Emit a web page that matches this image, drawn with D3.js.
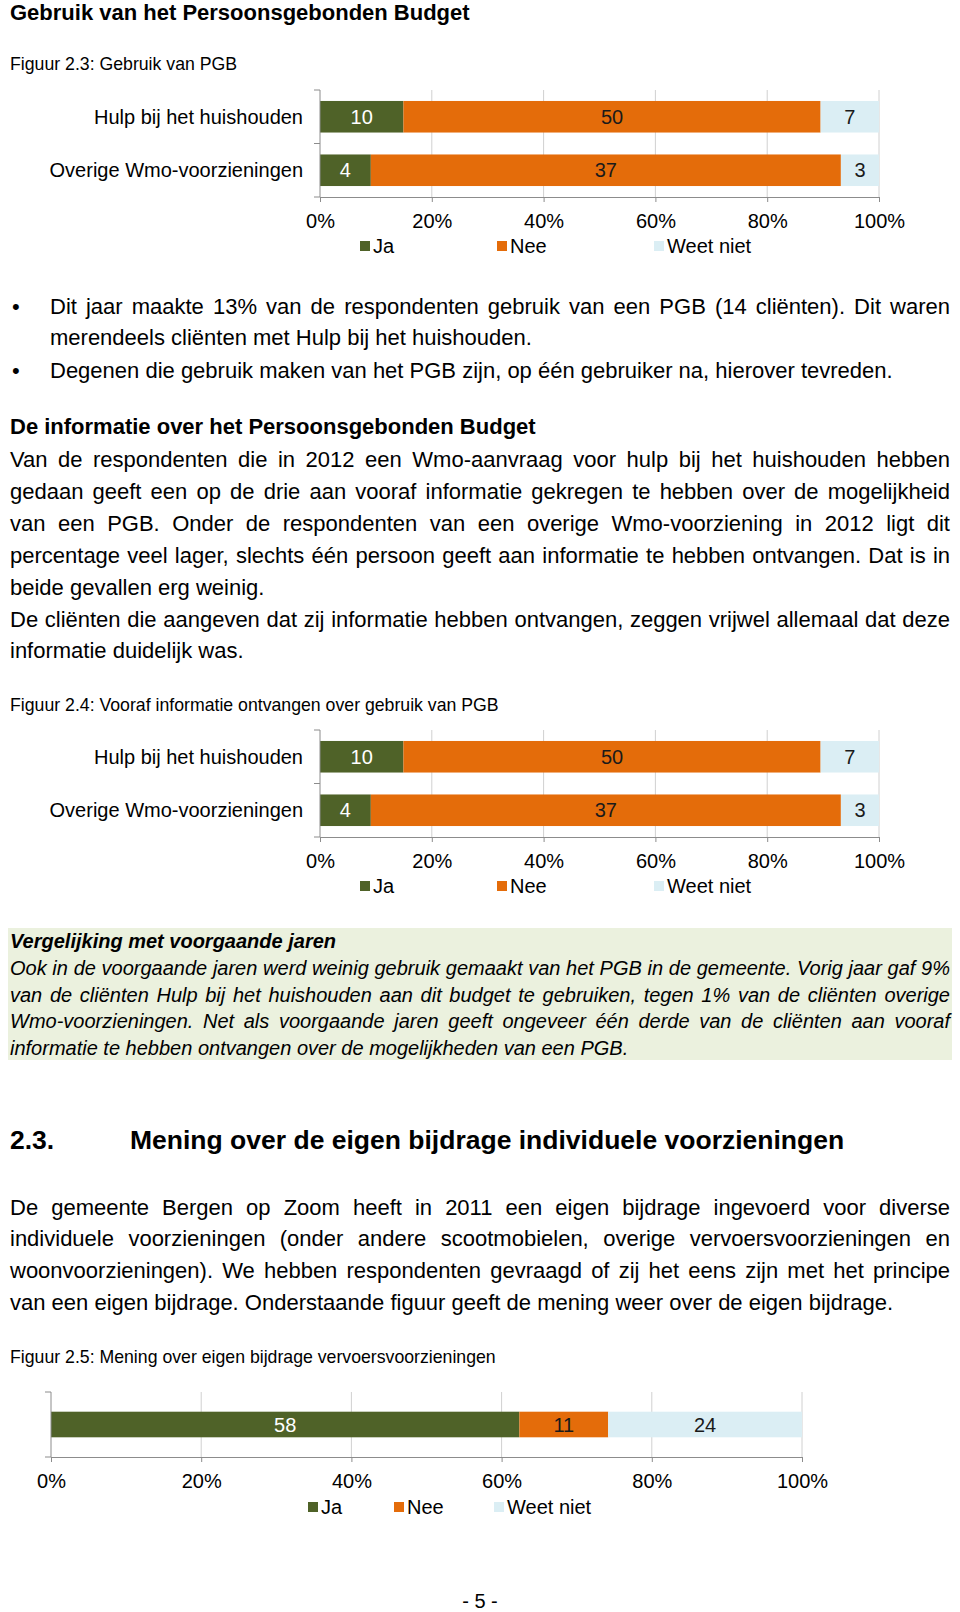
<!DOCTYPE html>
<html><head><meta charset="utf-8">
<script src="https://cdn.jsdelivr.net/npm/d3@7"></script>
<style>
html,body{margin:0;padding:0;background:#fff;}
svg{display:block;font-family:"Liberation Sans",Arial,sans-serif;}
</style></head><body>
<script>
// ---------- DATA ----------
const seriesNames = ["Ja", "Nee", "Weet niet"];
const tickLabels = ["0%", "20%", "40%", "60%", "80%", "100%"];
const tickValues = [0, 0.2, 0.4, 0.6, 0.8, 1];

const fig23Categories = ["Hulp bij het huishouden", "Overige Wmo-voorzieningen"];
const fig23Ja = [10, 4];
const fig23Nee = [50, 37];
const fig23Weet = [7, 3];

const fig24Categories = ["Hulp bij het huishouden", "Overige Wmo-voorzieningen"];
const fig24Ja = [10, 4];
const fig24Nee = [50, 37];
const fig24Weet = [7, 3];

const fig25Categories = [""];
const fig25Ja = [58];
const fig25Nee = [11];
const fig25Weet = [24];

const colors = ["#4F6228", "#E46C0A", "#DBEEF4"];
const labelColors = ["#ffffff", "#1a1a1a", "#1a1a1a"];

// ---------- SVG ----------
const svg = d3.select("body").append("svg").attr("width", 960).attr("height", 1612);
svg.append("rect").attr("width", 960).attr("height", 1612).attr("fill", "#fff");

function line(str, x, y, opt) {
  opt = opt || {};
  const t = svg.append("text").attr("x", x).attr("y", y)
    .attr("font-size", opt.size || 22)
    .attr("font-weight", opt.bold ? "bold" : "normal")
    .attr("font-style", opt.italic ? "italic" : "normal")
    .attr("fill", "#000");
  if (opt.justify) {
    const words = str.split(" ");
    const spans = words.map(w => t.append("tspan").text(w));
    const widths = spans.map(s => s.node().getComputedTextLength());
    const total = d3.sum(widths);
    const gap = (opt.justify - total) / (words.length - 1);
    let cx = x;
    spans.forEach((s, i) => { s.attr("x", cx); cx += widths[i] + gap; });
  } else {
    t.text(str);
  }
  return t;
}

// ---------- TEXT ----------
line("Gebruik van het Persoonsgebonden Budget", 10, 20, {size: 22, bold: true});
line("Figuur 2.3: Gebruik van PGB", 10, 70, {size: 17.7});

// bullets
const bulletLines = [
  {t: "Dit jaar maakte 13% van de respondenten gebruik van een PGB (14 cliënten). Dit waren", y: 314, b: true, j: true},
  {t: "merendeels cliënten met Hulp bij het huishouden.", y: 345, b: false, j: false},
  {t: "Degenen die gebruik maken van het PGB zijn, op één gebruiker na, hierover tevreden.", y: 378, b: true, j: false}
];
bulletLines.forEach(l => {
  if (l.b) line("•", 12, l.y, {size: 22});
  line(l.t, 50, l.y, {size: 22, justify: l.j ? 900 : 0});
});

line("De informatie over het Persoonsgebonden Budget", 10, 434, {size: 22, bold: true});
const para1 = [
  ["Van de respondenten die in 2012 een Wmo-aanvraag voor hulp bij het huishouden hebben", true],
  ["gedaan geeft een op de drie aan vooraf informatie gekregen te hebben over de mogelijkheid", true],
  ["van een PGB. Onder de respondenten van een overige Wmo-voorziening in 2012 ligt dit", true],
  ["percentage veel lager, slechts één persoon geeft aan informatie te hebben ontvangen. Dat is in", true],
  ["beide gevallen erg weinig.", false],
  ["De cliënten die aangeven dat zij informatie hebben ontvangen, zeggen vrijwel allemaal dat deze", true],
  ["informatie duidelijk was.", false]
];
para1.forEach((p, i) => line(p[0], 10, 467 + i * 31.9, {size: 22, justify: p[1] ? 940 : 0}));

line("Figuur 2.4: Vooraf informatie ontvangen over gebruik van PGB", 10, 711, {size: 17.7});

// green box
svg.append("rect").attr("x", 8).attr("y", 928).attr("width", 944).attr("height", 132).attr("fill", "#EBF1DE");
line("Vergelijking met voorgaande jaren", 10, 948, {size: 20, bold: true, italic: true});
const greenLines = [
  ["Ook in de voorgaande jaren werd weinig gebruik gemaakt van het PGB in de gemeente. Vorig jaar gaf 9%", true],
  ["van de cliënten Hulp bij het huishouden aan dit budget te gebruiken, tegen 1% van de cliënten overige", true],
  ["Wmo-voorzieningen. Net als voorgaande jaren geeft ongeveer één derde van de cliënten aan vooraf", true],
  ["informatie te hebben ontvangen over de mogelijkheden van een PGB.", false]
];
greenLines.forEach((p, i) => line(p[0], 10, 975 + i * 26.7, {size: 20, italic: true, justify: p[1] ? 940 : 0}));

line("2.3.", 10, 1149, {size: 26.5, bold: true});
line("Mening over de eigen bijdrage individuele voorzieningen", 130, 1149, {size: 26.5, bold: true});

const para2 = [
  ["De gemeente Bergen op Zoom heeft in 2011 een eigen bijdrage ingevoerd voor diverse", true],
  ["individuele voorzieningen (onder andere scootmobielen, overige vervoersvoorzieningen en", true],
  ["woonvoorzieningen). We hebben respondenten gevraagd of zij het eens zijn met het principe", true],
  ["van een eigen bijdrage. Onderstaande figuur geeft de mening weer over de eigen bijdrage.", false]
];
para2.forEach((p, i) => line(p[0], 10, 1214.5 + i * 31.9, {size: 22, justify: p[1] ? 940 : 0}));

line("Figuur 2.5: Mening over eigen bijdrage vervoersvoorzieningen", 10, 1363, {size: 17.7});

line("- 5 -", 480, 1608, {size: 20}).attr("text-anchor", "middle");

// ---------- CHARTS ----------
function drawChart(cfg) {
  const g = svg.append("g");
  const rows = cfg.cats.map((c, i) => ({cat: c, Ja: cfg.ja[i], Nee: cfg.nee[i], "Weet niet": cfg.weet[i]}));
  const stack = d3.stack().keys(seriesNames).offset(d3.stackOffsetExpand)(rows);
  const x = d3.scaleLinear().domain([0, 1]).range([cfg.x0, cfg.x1]);
  const y = d3.scaleBand().domain(cfg.cats).range([cfg.top, cfg.bottom])
    .paddingInner(cfg.pad).paddingOuter(cfg.pad / 2);

  // gridlines
  g.selectAll(".grid").data(tickValues.slice(1)).join("line")
    .attr("x1", d => x(d)).attr("x2", d => x(d))
    .attr("y1", cfg.top).attr("y2", cfg.bottom)
    .attr("stroke", "#D0D0D0").attr("stroke-width", 1);

  // bars
  stack.forEach((s, si) => {
    g.selectAll(null).data(s).join("rect")
      .attr("x", d => x(d[0])).attr("width", d => x(d[1]) - x(d[0]))
      .attr("y", d => y(d.data.cat)).attr("height", y.bandwidth())
      .attr("fill", colors[si]);
    g.selectAll(null).data(s).join("text")
      .attr("x", d => (x(d[0]) + x(d[1])) / 2)
      .attr("y", d => y(d.data.cat) + y.bandwidth() / 2 + 7)
      .attr("text-anchor", "middle").attr("font-size", 20)
      .attr("fill", labelColors[si])
      .text(d => d.data[seriesNames[si]]);
  });

  // left axis
  const ax = "#8C8C8C";
  g.append("line").attr("x1", cfg.x0).attr("x2", cfg.x0).attr("y1", cfg.top).attr("y2", cfg.bottom)
    .attr("stroke", ax);
  const bounds = d3.range(cfg.cats.length + 1).map(i => cfg.top + i * y.step());
  g.selectAll(null).data(bounds).join("line")
    .attr("x1", cfg.x0 - 6).attr("x2", cfg.x0).attr("y1", d => d).attr("y2", d => d)
    .attr("stroke", ax);
  // category labels
  if (cfg.cats[0] !== "") {
    g.selectAll(null).data(cfg.cats).join("text")
      .attr("x", cfg.x0 - 17).attr("y", d => y(d) + y.bandwidth() / 2 + 7)
      .attr("text-anchor", "end").attr("font-size", 20).attr("fill", "#000")
      .text(d => d);
  }
  // bottom axis
  const xAxis = d3.axisBottom(x).tickValues(tickValues).tickSize(5).tickPadding(12)
    .tickFormat((d, i) => tickLabels[i]);
  const axG = g.append("g").attr("transform", `translate(0,${cfg.bottom})`).call(xAxis);
  axG.select(".domain").attr("stroke", ax);
  axG.selectAll(".tick line").attr("stroke", ax);
  axG.selectAll(".tick text").attr("font-size", 20).attr("fill", "#000")
    .attr("font-family", "Liberation Sans, Arial, sans-serif")
    .attr("dy", null).attr("y", cfg.tickY - cfg.bottom);

  // legend
  seriesNames.forEach((n, i) => {
    g.append("rect").attr("x", cfg.legendX[i]).attr("y", cfg.legendY - 12)
      .attr("width", 10).attr("height", 10).attr("fill", colors[i]);
    g.append("text").attr("x", cfg.legendX[i] + 13).attr("y", cfg.legendY)
      .attr("font-size", 20).attr("fill", "#000").text(n);
  });
}

drawChart({cats: fig23Categories, ja: fig23Ja, nee: fig23Nee, weet: fig23Weet,
  x0: 320, x1: 879, top: 90, bottom: 197, pad: 0.41, tickY: 228, legendY: 253,
  legendX: [360, 497, 654]});
drawChart({cats: fig24Categories, ja: fig24Ja, nee: fig24Nee, weet: fig24Weet,
  x0: 320, x1: 879, top: 730, bottom: 837, pad: 0.41, tickY: 868, legendY: 893,
  legendX: [360, 497, 654]});
drawChart({cats: fig25Categories, ja: fig25Ja, nee: fig25Nee, weet: fig25Weet,
  x0: 51, x1: 802, top: 1392, bottom: 1457, pad: 0.606, tickY: 1488, legendY: 1514,
  legendX: [308, 394, 494]});
</script>
</body></html>
